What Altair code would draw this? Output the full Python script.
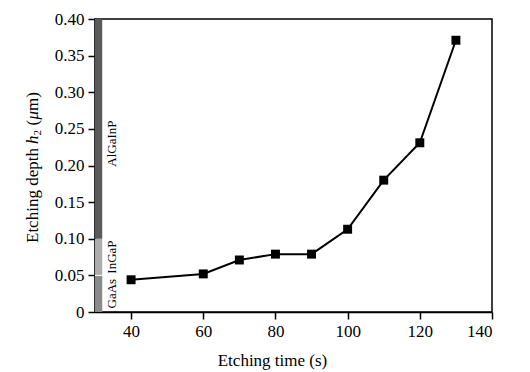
import altair as alt
import pandas as pd

# data series
etch_time = [40, 60, 70, 80, 90, 100, 110, 120, 130]
etch_depth = [0.044, 0.052, 0.071, 0.079, 0.079, 0.113, 0.180, 0.231, 0.371]

# epitaxial layer bands
layer_names = ["GaAs", "InGaP", "AlGaInP"]
layer_bottom = [0.0, 0.05, 0.10]
layer_top = [0.05, 0.10, 0.40]
layer_label_pos = [0.025, 0.075, 0.23]
layer_colors = ["#8a8a8a", "#adadad", "#5a5a5a"]

x_ticks = [40, 60, 80, 100, 120, 140]
y_ticks = [0, 0.05, 0.10, 0.15, 0.20, 0.25, 0.30, 0.35, 0.40]

FONT = "Liberation Serif"
W, H = 397, 293

df = pd.DataFrame({"t": etch_time, "d": etch_depth})
bands = pd.DataFrame({
    "name": layer_names, "y0": layer_bottom, "y1": layer_top,
    "ly": layer_label_pos, "x0": [30] * 3, "x1": [32] * 3, "lx": [34.6] * 3,
})

xs = alt.Scale(domain=[30, 140], nice=False, zero=False)
ys = alt.Scale(domain=[0, 0.4], nice=False)

x_axis = alt.Axis(values=x_ticks, title="Etching time (s)", grid=False, labelOverlap=False,
                  titleX=177, titleY=53, titleAnchor="start", titleAlign="center",
                  titleBaseline="alphabetic")
y_axis = alt.Axis(values=y_ticks, title=None, grid=False, labelOverlap=False,
                  labelExpr="datum.value == 0 ? '0' : format(datum.value, '.2f')")


def X(f):
    return alt.X(f, scale=xs, axis=x_axis)


def Y(f):
    return alt.Y(f, scale=ys, axis=y_axis)


rects = alt.Chart(bands).mark_rect().encode(
    x=X("x0:Q"), x2="x1:Q", y=Y("y0:Q"), y2="y1:Q",
    color=alt.Color("name:N", scale=alt.Scale(domain=layer_names, range=layer_colors), legend=None),
)

sep = alt.Chart(pd.DataFrame({"x0": [30], "x1": [32], "y": [0.05]})).mark_rule(
    color="white", strokeWidth=1).encode(x=X("x0:Q"), x2="x1:Q", y=Y("y:Q"))

labels = alt.Chart(bands).mark_text(angle=270, font=FONT, fontSize=13, color="black",
                                    align="center", baseline="middle").encode(
    x=X("lx:Q"), y=Y("ly:Q"), text="name:N")

line = alt.Chart(df).mark_line(color="black", strokeWidth=2).encode(x=X("t:Q"), y=Y("d:Q"))
pts = alt.Chart(df).mark_point(shape="square", filled=True, color="black", size=80, opacity=1).encode(
    x=X("t:Q"), y=Y("d:Q"))

# y-axis title pieces (rotated), to get italic h and subscript 2
title_pieces = ["Etching depth ", "h", "2", "(", "\u03bc", "m)"]
title_pos = [224, 125, 116.5, 106.5, 100.5, 92]
title_dx = [-62, -62, -57, -62, -62, -62]
title_style = ["normal", "italic", "normal", "normal", "italic", "normal"]
title_size = [17, 17, 11, 17, 17, 17]

ytitle_layers = []
for txt, py, px, st, sz in zip(title_pieces, title_pos, title_dx, title_style, title_size):
    ytitle_layers.append(
        alt.Chart(pd.DataFrame({"s": [txt]})).mark_text(
            angle=270, font=FONT, fontSize=sz, fontStyle=st, color="black",
            align="left", baseline="middle").encode(
            x=alt.value(px), y=alt.value(py), text="s:N")
    )

chart = alt.layer(rects, sep, labels, line, pts, *ytitle_layers).properties(
    width=W, height=H,
    autosize=alt.AutoSizeParams(type="none"),
    padding={"left": 87, "top": 11, "right": 30, "bottom": 62},
    background="white",
).configure_view(
    stroke="black", strokeWidth=1.5
).configure_axis(
    domainColor="black", domainWidth=1.5, tickColor="black", tickWidth=1.5, tickSize=7,
    labelFont=FONT, labelFontSize=17, labelColor="black", labelPadding=4,
    titleFont=FONT, titleFontSize=17, titleColor="black", titleFontWeight="normal",
)

chart.save("out.html", embed_options={"renderer": "svg", "actions": False})
